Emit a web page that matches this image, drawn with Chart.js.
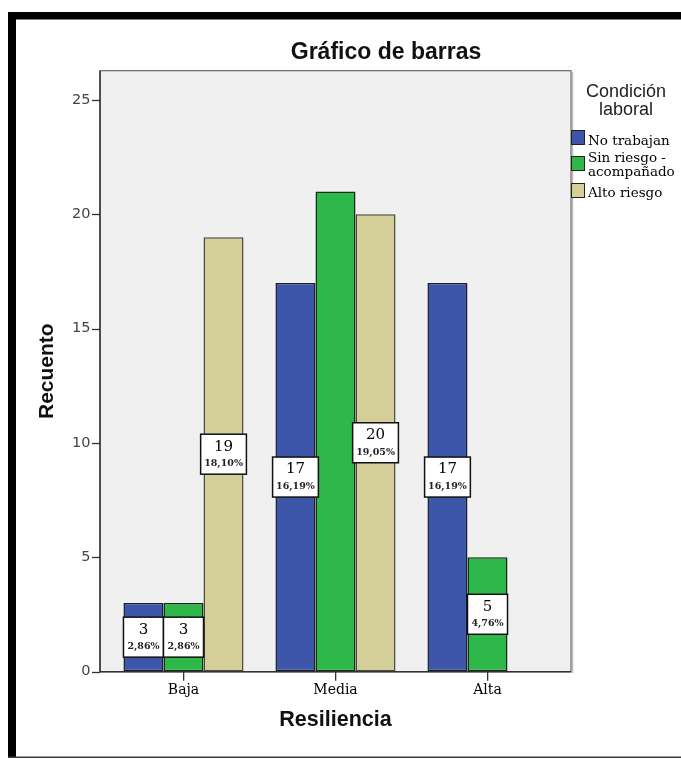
<!DOCTYPE html>
<html><head><meta charset="utf-8">
<script src="https://cdn.jsdelivr.net/npm/chart.js@4.4.1/dist/chart.umd.min.js"></script>
<style>html,body{margin:0;padding:0;background:#fff;} canvas{display:block;}</style>
</head><body>
<canvas id="c" width="681" height="760"></canvas>
<script>
// ---- data ----
const categories = ['Baja', 'Media', 'Alta'];
const legendTitle = ['Condición', 'laboral'];
const seriesNames = [['No trabajan'], ['Sin riesgo -', 'acompañado'], ['Alto riesgo']];
const noTrabajan = [3, 17, 17];
const sinRiesgo = [3, 21, 5];
const altoRiesgo = [19, 20, null];
const pctNoTrabajan = ['2,86%', '16,19%', '16,19%'];
const pctSinRiesgo = ['2,86%', null, '4,76%'];
const pctAltoRiesgo = ['18,10%', '19,05%', null];
const yTickValues = [0, 5, 10, 15, 20, 25];
const yMax = 26.28;
const chartTitle = 'Gráfico de barras';
const xTitle = 'Resiliencia';
const yTitle = 'Recuento';

// ---- styles ----
const fillColors = ['#3d56a9', '#2eb84a', '#d4cf98'];
const edgeColors = ['#1a1d2e', '#142a18', '#4a4838'];
const pctLists = [pctNoTrabajan, pctSinRiesgo, pctAltoRiesgo];
const PLOT_PAD = 7.5;
const SERIF = "'DejaVu Serif', 'Liberation Serif', serif";
const SANS = "'Liberation Sans', Arial, sans-serif";

const decor = {
  id: 'decor',
  beforeDraw(chart) {
    const ctx = chart.ctx, a = chart.chartArea;
    ctx.save();
    ctx.fillStyle = '#fff'; ctx.fillRect(0, 0, 681, 760);
    // outer frame
    ctx.fillStyle = '#000';
    ctx.fillRect(8, 12, 673, 7.5);
    ctx.fillRect(8, 12, 8, 746);
    ctx.fillStyle = '#3a3a3a'; ctx.fillRect(8, 756.5, 673, 1.5);
    // plot box
    const L = a.left - PLOT_PAD, R = a.right + PLOT_PAD, T = a.top, B = a.bottom;
    ctx.fillStyle = '#f0f0f0'; ctx.fillRect(L, T, R - L, B - T);
    ctx.strokeStyle = '#bdbdbd'; ctx.lineWidth = 1.5;
    ctx.beginPath(); ctx.moveTo(R + 1.5, T + 1.5); ctx.lineTo(R + 1.5, B + 1.5); ctx.stroke();
    ctx.strokeStyle = '#6a6a6a'; ctx.lineWidth = 1.2;
    ctx.strokeRect(L, T, R - L, B - T);
    ctx.strokeStyle = '#333'; ctx.lineWidth = 1.5;
    ctx.beginPath(); ctx.moveTo(L, T); ctx.lineTo(L, B); ctx.lineTo(R, B); ctx.stroke();
    // y tick marks
    const ys = chart.scales.y;
    ctx.strokeStyle = '#333'; ctx.lineWidth = 1.3;
    ys.ticks.forEach(t => {
      const y = Math.round(ys.getPixelForValue(t.value)) + 0.5;
      ctx.beginPath(); ctx.moveTo(L - 8, y); ctx.lineTo(L, y); ctx.stroke();
    });
    ctx.restore();
  },
  afterDatasetsDraw(chart) {
    const ctx = chart.ctx;
    ctx.save();
    chart.data.datasets.forEach((ds, i) => {
      const meta = chart.getDatasetMeta(i);
      const pcts = pctLists[i];
      meta.data.forEach((bar, j) => {
        const v = ds.data[j];
        if (v == null || pcts[j] == null) return;
        const p = bar.getProps(['x', 'y', 'base', 'width'], true);
        const cy = (p.y + p.base) / 2;
        ctx.font = 'bold 9.5px ' + SERIF;
        const tw = ctx.measureText(pcts[j]).width;
        const w = Math.max(p.width, tw + 7);
        const h = 40;
        const bx = p.x - w / 2, by = cy - h / 2;
        ctx.fillStyle = '#fff'; ctx.fillRect(bx, by, w, h);
        ctx.strokeStyle = '#111'; ctx.lineWidth = 1.5;
        ctx.strokeRect(bx, by, w, h);
        ctx.fillStyle = '#000'; ctx.textAlign = 'center'; ctx.textBaseline = 'middle';
        ctx.font = '15px ' + SERIF;
        ctx.fillText(String(v), p.x, cy - 7.5);
        ctx.font = 'bold 9.5px ' + SERIF;
        ctx.fillStyle = '#222';
        ctx.fillText(pcts[j], p.x, cy + 9.5);
      });
    });
    ctx.restore();
  },
  afterDraw(chart) {
    const ctx = chart.ctx, a = chart.chartArea;
    ctx.save();
    ctx.fillStyle = '#111';
    ctx.textAlign = 'center'; ctx.textBaseline = 'middle';
    ctx.font = 'bold 23px ' + SANS;
    ctx.fillText(chartTitle, 386, 53);
    ctx.font = 'bold 21.5px ' + SANS;
    ctx.fillText(xTitle, (a.left + a.right) / 2, 720);
    ctx.save();
    ctx.translate(47, (a.top + a.bottom) / 2);
    ctx.rotate(-Math.PI / 2);
    ctx.font = 'bold 21px ' + SANS;
    ctx.fillText(yTitle, 0, 0);
    ctx.restore();
    // legend
    ctx.font = '18px ' + SANS;
    ctx.fillStyle = '#222';
    ctx.fillText(legendTitle[0], 626, 92);
    ctx.fillText(legendTitle[1], 626, 110);
    const boxTops = [130, 156, 183];
    const lineBase = [[145], [162, 175.5], [197]];
    ctx.textAlign = 'left'; ctx.textBaseline = 'alphabetic';
    ctx.font = '13.5px ' + SERIF;
    chart.data.datasets.forEach((ds, i) => {
      ctx.fillStyle = ds.backgroundColor;
      ctx.fillRect(571, boxTops[i], 14, 15);
      ctx.strokeStyle = '#222'; ctx.lineWidth = 1;
      ctx.strokeRect(571.5, boxTops[i] + 0.5, 13, 14);
      ctx.fillStyle = '#000';
      seriesNames[i].forEach((ln, k) => ctx.fillText(ln, 588, lineBase[i][k]));
    });
    ctx.restore();
  }
};

const datasets = [noTrabajan, sinRiesgo, altoRiesgo].map((d, i) => ({
  label: seriesNames[i].join(' '),
  data: d,
  backgroundColor: fillColors[i],
  borderColor: edgeColors[i],
  borderWidth: 1.5,
  borderSkipped: false,
  categoryPercentage: 0.79,
  barPercentage: 1.0
}));

new Chart(document.getElementById('c'), {
  type: 'bar',
  data: { labels: categories, datasets },
  options: {
    responsive: false,
    animation: false,
    devicePixelRatio: 1,
    layout: { padding: { left: 16, right: 117.5, top: 70.7, bottom: 58.3 } },
    plugins: { legend: { display: false }, tooltip: { enabled: false }, title: { display: false } },
    scales: {
      x: {
        offset: true,
        grid: { display: true, offset: false, drawOnChartArea: false, drawTicks: true, tickLength: 9, color: '#333', lineWidth: 1.3 },
        border: { display: false },
        ticks: { font: { family: SERIF, size: 14 }, color: '#000', padding: 1, maxRotation: 0 },
        afterFit(s) { s.height = 30; }
      },
      y: {
        min: 0, max: yMax,
        grid: { display: true, drawOnChartArea: false, drawTicks: false },
        border: { display: false },
        afterBuildTicks(s) { s.ticks = yTickValues.map(v => ({ value: v })); },
        ticks: { font: { family: "'DejaVu Sans', sans-serif", size: 14.5 }, color: '#444', padding: 17 },
        afterFit(s) { s.width = 91.5; }
      }
    }
  },
  plugins: [decor]
});
</script>
</body></html>
